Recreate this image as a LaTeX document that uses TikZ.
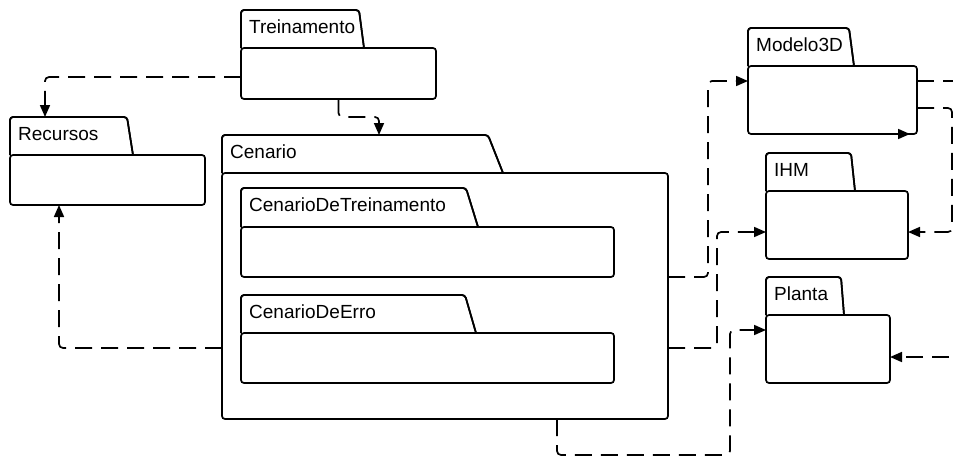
\documentclass[tikz,border=0pt]{standalone}
\usepackage{fontspec}
\setmainfont{Liberation Sans}
\usetikzlibrary{arrows.meta,calc}
\tikzset{
  pkgbody/.style={draw=black,line width=1.7pt,rounded corners=3pt,inner sep=0pt,outer sep=0pt,fill=white},
  pkgtab/.style={draw=black,line width=1.7pt,rounded corners=3pt},
  pkglabel/.style={anchor=base west,inner sep=0pt,font=\fontsize{19}{22}\selectfont},
  dep/.style={draw=black,line width=1.7pt,dash pattern=on 17pt off 9pt,rounded corners=4pt,-{Triangle[length=12pt,width=10pt]}},
  tip/.style={draw=black,line width=1.7pt,-{Triangle[length=12pt,width=10pt]}}
}
% \pkg{name}{x0}{ytop}{xtabtop}{xtabbot}{ybody}{x1}{ybottom}{label}
\newcommand{\pkg}[9]{%
  \path[pkgtab,fill=white] (#2,#6) -- (#2,#3) -- (#4,#3) -- (#5,#6);
  \draw[pkgtab] (#2,#6) -- (#2,#3) -- (#4,#3) -- (#5,#6);
  \coordinate (#1t) at (#2,#3);
  \node[pkgbody,minimum width={(#7-#2)*1pt},minimum height={(#8-#6)*1pt}] (#1) at ({(#2+#7)/2},{(#6+#8)/2}) {};
  \node[pkglabel] (#1l) at ({#2+8},{#3+23}) {#9};
}
\begin{document}
\begin{tikzpicture}[x=1pt,y=-1pt]
\clip (0,0) rectangle (953,458);
\fill[white] (0,0) rectangle (953,458);
% packages
\pkg{trein}{241}{10}{359}{364}{48}{436}{99}{Treinamento}
\pkg{rec}{10}{117}{127}{133}{155}{205}{205}{Recursos}
\pkg{cen}{222}{135}{488}{503}{173}{668}{419}{Cenario}
\pkg{cdt}{241}{188}{466}{478}{227}{614}{277}{CenarioDeTreinamento}
\pkg{cde}{241}{295}{465}{476}{333}{614}{383}{CenarioDeErro}
\pkg{mod}{748}{28}{849}{854}{66}{917}{134}{Modelo3D}
\pkg{ihm}{766}{153}{851}{855}{191}{908}{259}{IHM}
\pkg{pla}{766}{277}{841}{844}{315}{890}{383}{Planta}
% connectors
\draw[dep] ([yshift=-3.5pt]trein.west) -| ([xshift=35pt]rect);
\draw[dep] (trein.south) -- ++(0,18) -| ([xshift=157pt]cent);
\draw[dep] ([yshift=-52pt]cen.west) -| ([xshift=-48.5pt]rec.south);
\draw[dep] ([yshift=19pt]cen.east) -- ++(40,0) |- ([yshift=19pt]mod.west);
\draw[dep] ([yshift=-52pt]cen.east) -- ++(49,0) |- ([yshift=-7pt]ihm.west);
\draw[dep] ([xshift=112pt]cen.south) -- ++(0,36) -- ++(173,0) |- ([yshift=19pt]pla.west);
\coordinate (offM) at (975,81);
\draw[dep,-] ([yshift=19pt]mod.east) -- (offM);
\draw[dep] ([yshift=-8pt]mod.east) -- ++(35,0) |- ([yshift=-7pt]ihm.east);
\coordinate (offP) at (975,357);
\draw[dep] (offP) -- ([yshift=-8pt]pla.east);
\coordinate (modb) at ([xshift=-30pt]mod.south east);
\draw[tip] (modb) -- ([xshift=-7pt]mod.south east);
\end{tikzpicture}
\end{document}
